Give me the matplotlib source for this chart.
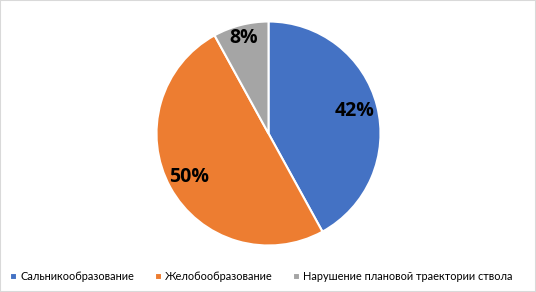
import matplotlib.pyplot as plt
import numpy as np
from matplotlib.patches import Rectangle

categories = ["Сальникообразование", "Желобообразование",
              "Нарушение плановой траектории ствола"]
values = [42, 50, 8]
labels = ["42%", "50%", "8%"]
colors = ["#4472C4", "#ED7D31", "#A5A5A5"]
label_dist = [0.79, 0.81, 0.88]

plt.rcParams['font.family'] = ['Lato', 'DejaVu Sans']

fig = plt.figure(figsize=(5.36, 2.92), dpi=100)
ax = fig.add_axes([(268.5 - 112) / 536, 1 - (133.5 + 112) / 292,
                   224 / 536, 224 / 292])

wedges, _ = ax.pie(values, colors=colors, startangle=90, counterclock=False,
                   wedgeprops=dict(edgecolor="white", linewidth=1.5))
ax.set_aspect("equal")
ax.set_xlim(-1, 1)
ax.set_ylim(-1, 1)

for w, lab, d in zip(wedges, labels, label_dist):
    ang = np.deg2rad((w.theta1 + w.theta2) / 2)
    ax.text(d * np.cos(ang), d * np.sin(ang), lab, ha="center", va="center",
            fontsize=14, fontweight="bold", color="black",
            family=["Open Sans", "DejaVu Sans"])

fig.legend(wedges, categories, loc="center", bbox_to_anchor=(0.488, 1 - 277 / 292),
           ncol=3, frameon=False, fontsize=7.9, handlelength=0.6, handleheight=0.6,
           handletextpad=0.3, columnspacing=1.9)

fig.patches.append(Rectangle((0, 0), 1, 1, transform=fig.transFigure,
                             fill=False, edgecolor="#D9D9D9", linewidth=1.5))

plt.savefig("out.png", dpi=100)
